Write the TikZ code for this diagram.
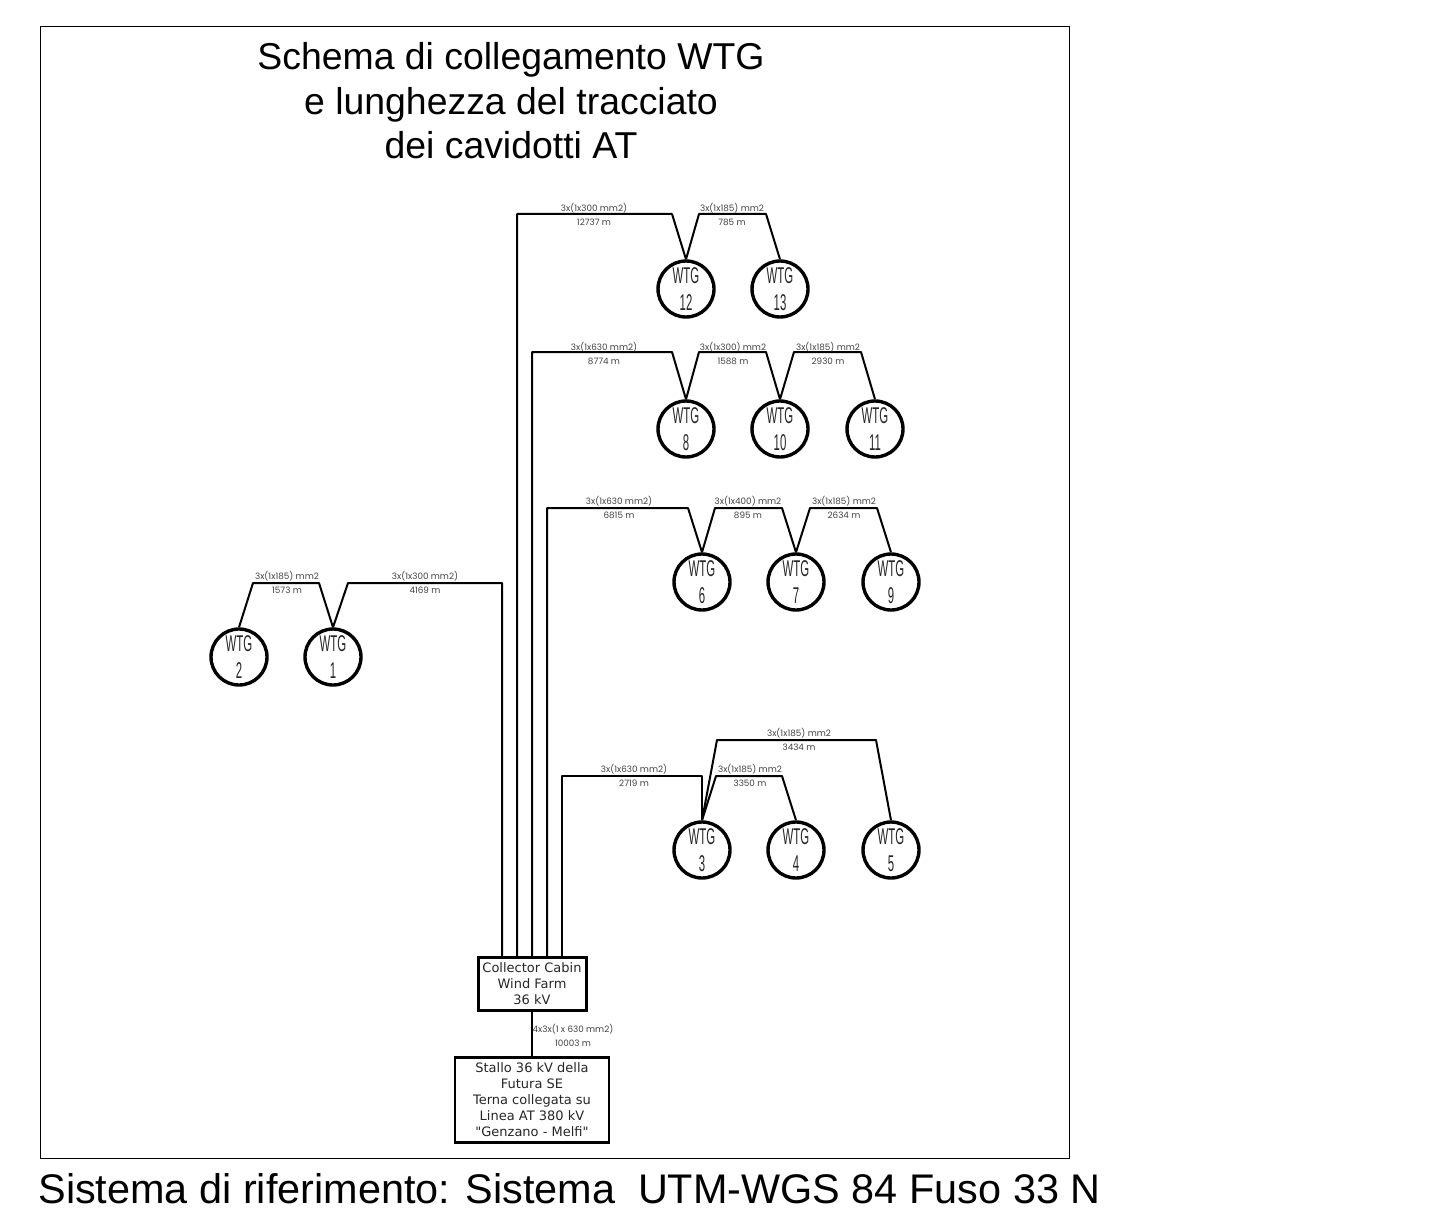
\documentclass[tikz,border=0pt]{standalone}
\usepackage{fontspec}
\setmainfont{Liberation Sans}
\newfontfamily\boxfont{DejaVu Sans}
\newfontfamily\cablefont{Poppins}
\usetikzlibrary{calc}
\tikzstyle{wire} = [line width=1pt, line join=round]
\tikzstyle{wtg} = [circle, draw=black, line width=1.7pt, minimum size=28pt, inner sep=0pt,
align=center, text=black!85, font=\fontsize{11.4}{13.4}\selectfont]
\tikzstyle{cabin} = [rectangle, draw=black, line width=1.5pt, inner sep=0pt, align=center,
text=black!85, font=\boxfont\fontsize{6.5}{8}\selectfont]
\tikzstyle{cable} = [inner sep=0pt, align=center, text=black!75,
font=\cablefont\fontsize{4.4}{7}\selectfont]
\newcommand{\wtgtext}[1]{\scalebox{0.5}[1]{WTG}\\\scalebox{0.5}[1]{#1}}

\begin{document}
\begin{tikzpicture}[x=0.5pt, y=-0.5pt]
		\useasboundingbox (0,0) rectangle (1439,1209);
		
		% cornice
		\node[draw=black, line width=0.5pt, inner sep=0pt, minimum width=514.5pt, minimum height=565.5pt] (frame) at (554.5,592.5) {};
		
		% titolo
		\node[align=center, font=\fontsize{18.7}{22.2}\selectfont] (title) at (511,101) {Schema di collegamento WTG\\e lunghezza del tracciato\\dei cavidotti AT};
		\node[anchor=base west, inner sep=0pt, font=\fontsize{20.7}{22}\selectfont] (refsys) at (38,1203) {Sistema di riferimento: Sistema\ \ UTM-WGS 84 Fuso 33 N};
		
		% cabine
		\node[cabin, minimum width=54pt, minimum height=26.5pt] (cab) at (532,984) {Collector Cabin\\Wind Farm\\36 kV};
		\node[cabin, line width=1.3pt, minimum width=77pt, minimum height=42.5pt] (se) at (532,1100) {Stallo 36 kV della\\Futura SE\\Terna collegata su\\Linea AT 380 kV\\"Genzano - Melfi"};
		
		% aerogeneratori
		\foreach \n/\x/\y in {12/686/289, 13/780/289, 8/686/429, 10/780/429, 11/875/429,
			6/702/582, 7/796/582, 9/891/582, 3/702/850, 4/796/850, 5/891/850, 2/239/657, 1/333/657}
		\node[wtg] (w\n) at (\x,\y) {\wtgtext{\n}};
		
		% punti di piega
		\foreach \name/\x/\y in {a1/502/583, a2/348/583, a3/319/583, a4/253/583,
			b1/517/214, b2/672/214, b3/699/214, b4/766/214,
			c1/532/352, c2/672/352, c3/699/352, c4/766/352, c5/794/352, c6/861/352,
			d1/547/508, d2/688/508, d3/715/508, d4/782/508, d5/810/508, d6/877/508,
			e1/562/776, e2/702/776, e3/716/776, e4/782/776, e5/717/740, e6/876/740}
		\coordinate (\name) at (\x,\y);
		
		% linee
		\draw[wire] (cab.north -| a1) |- (a2) -- (w1.north);
		\draw[wire] (w1.north) -- (a3) -- (a4) -- (w2.north);
		
		\draw[wire] (cab.north -| b1) |- (b2) -- (w12.north);
		\draw[wire] (w12.north) -- (b3) -- (b4) -- (w13.north);
		
		\draw[wire] (cab.north -| c1) |- (c2) -- (w8.north);
		\draw[wire] (w8.north) -- (c3) -- (c4) -- (w10.north);
		\draw[wire] (w10.north) -- (c5) -- (c6) -- (w11.north);
		
		\draw[wire] (cab.north -| d1) |- (d2) -- (w6.north);
		\draw[wire] (w6.north) -- (d3) -- (d4) -- (w7.north);
		\draw[wire] (w7.north) -- (d5) -- (d6) -- (w9.north);
		
		\draw[wire] (cab.north -| e1) |- (e2) -- (w3.north);
		\draw[wire] (w3.north) -- (e3) -- (e4) -- (w4.north);
		\draw[wire] (w3.north) -- (e5) -- (e6) -- (w5.north);
		
		\draw[wire] (cab) -- (se);
		
		% sezioni e lunghezze
		\foreach \i/\x/\y/\sez/\len in {
			l1/287/582/3x(1x185) mm2/1573 m, l2/425/582/3x(1x300 mm2)/4169 m,
			l3/594/214/3x(1x300 mm2)/12737 m, l4/732/214/3x(1x185) mm2/785 m,
			l5/604/353/3x(1x630 mm2)/8774 m, l6/733/353/3x(1x300) mm2/1588 m, l7/828/353/3x(1x185) mm2/2930 m,
			l8/619/507/3x(1x630 mm2)/6815 m, l9/748/507/3x(1x400) mm2/895 m, l10/844/507/3x(1x185) mm2/2634 m,
			l11/634/775/3x(1x630 mm2)/2719 m, l12/750/775/3x(1x185) mm2/3350 m, l13/799/739/3x(1x185) mm2/3434 m,
			l14/573/1035/4x3x(1 x 630 mm2)/10003 m}
		\node[cable] (\i) at (\x,\y) {\sez\\\len};
		
	\end{tikzpicture}
\end{document}
